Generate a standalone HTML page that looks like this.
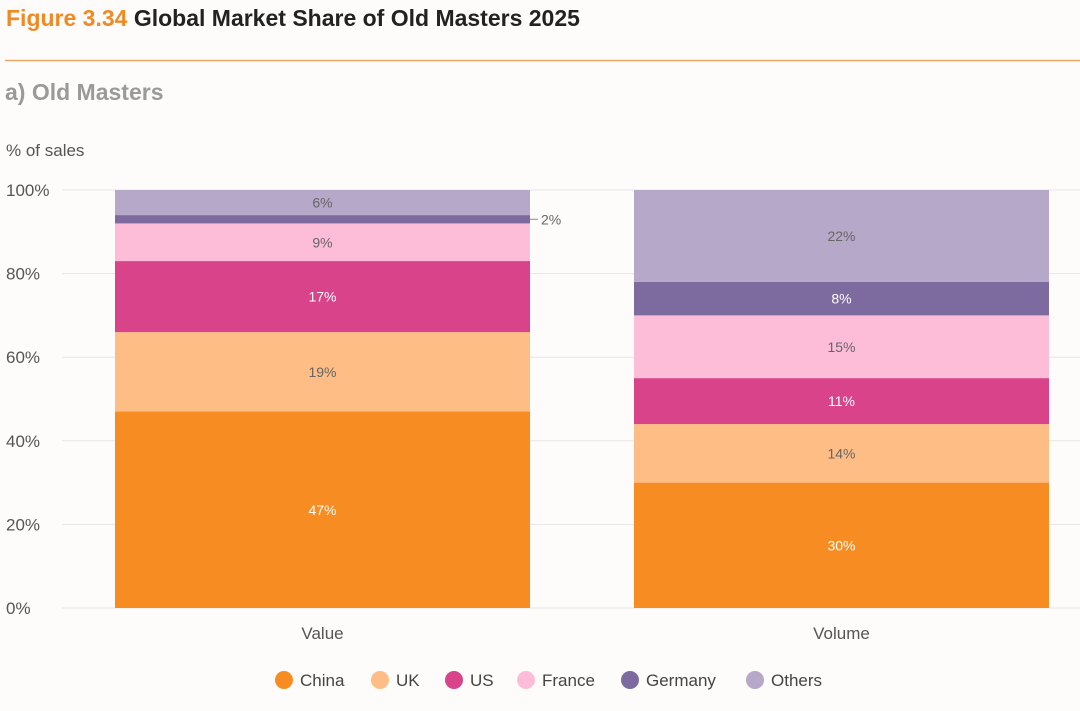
<!DOCTYPE html>
<html><head><meta charset="utf-8"><style>
body{margin:0;background:#fdfcfb;font-family:"Liberation Sans",sans-serif;}
#wrap{position:relative;width:1080px;height:711px;overflow:hidden;}
</style></head><body>
<div id="wrap">
<svg id="svg" width="1080" height="711" xmlns="http://www.w3.org/2000/svg">
<text x="6" y="26" font-size="23" font-weight="bold" fill="#f08a24">Figure 3.34 <tspan fill="#222">Global Market Share of Old Masters 2025</tspan></text>
<line x1="5" y1="60.5" x2="1080" y2="60.5" stroke="#f0a860" stroke-width="1.5"/>
<text x="5" y="100" font-size="23" font-weight="bold" fill="#9a9a9a">a) Old Masters</text>
<text x="6" y="156" font-size="17" fill="#555">% of sales</text>
<g id="grid"></g><g id="bars"></g><g id="legend"></g>
</svg>
</div>
<script>
const categories=["Value","Volume"];
const seriesNames=["China","UK","US","France","Germany","Others"];
const chinaVals=[47,30];
const ukVals=[19,14];
const usVals=[17,11];
const franceVals=[9,15];
const germanyVals=[2,8];
const othersVals=[6,22];
const yTicks=[0,20,40,60,80,100];
const colors=["#f78d22","#fdbd85","#d9438a","#fdbdd9","#7d6ba0","#b5a8c8"];
const textColors=["#fff","#666","#fff","#666","#fff","#666"];
const series=[chinaVals,ukVals,usVals,franceVals,germanyVals,othersVals];
const NS="http://www.w3.org/2000/svg";
const y0=608,y1=190;
function yScale(v){return y0-(y1-y0)*-v/100;}
function xLeft(i){return 115+i*519;}
const bw=415;
function mk(t,a,p){const e=document.createElementNS(NS,t);for(const k in a)e.setAttribute(k,a[k]);p.appendChild(e);return e;}
const grid=document.getElementById('grid');
yTicks.forEach(t=>{
 const l=mk('line',{x1:62,x2:1080,y1:yScale(t),y2:yScale(t),stroke:'#e6e6e6','stroke-width':1},grid);
 
 
 const tx=mk('text',{x:6,y:yScale(t)+6,'font-size':17,fill:'#555'},grid);
 tx.textContent=t+'%';
 
 
});
const bars=document.getElementById('bars');
categories.forEach((c,i)=>{
 let cum=0;
 series.forEach((s,j)=>{
  const v=s[i];
  const top=yScale(cum+v),bot=yScale(cum);
  const r=mk('rect',{x:xLeft(i),y:top,width:bw,height:bot-top,fill:colors[j]},bars);
  
  
  if(v>=5){
   const t=mk('text',{x:xLeft(i)+bw/2,y:(top+bot)/2+5,'font-size':14,fill:textColors[j],'text-anchor':'middle'},bars);
   t.textContent=v+'%';
   
   
  } else {
   const ym=(top+bot)/2;
   const ln=mk('line',{x1:xLeft(i)+bw,x2:xLeft(i)+bw+8,y1:ym,y2:ym,stroke:'#888'},bars);
   
   
   const t=mk('text',{x:xLeft(i)+bw+11,y:ym+5,'font-size':14,fill:'#666'},bars);
   t.textContent=v+'%';
   
   
  }
  cum+=v;
 });
 const ct=mk('text',{x:xLeft(i)+bw/2,y:639,'font-size':17,fill:'#555','text-anchor':'middle'},bars);
 ct.textContent=c;
 
 
});
const lg=document.getElementById('legend');
const lx=[284,380,454,526,630,755];
seriesNames.forEach((n,j)=>{
 const g=mk('g',{},lg);
 
 
 mk('circle',{cx:lx[j],cy:680,r:9,fill:colors[j]},g);
 const t=mk('text',{x:lx[j]+16,y:686,'font-size':17,fill:'#444'},g);
 t.textContent=n;
});
</script>
</body></html>
